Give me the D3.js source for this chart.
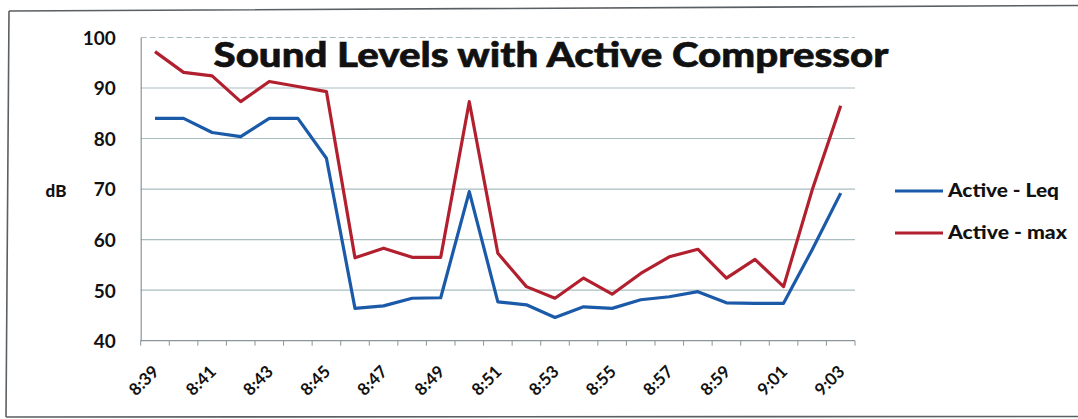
<!DOCTYPE html>
<html>
<head>
<meta charset="utf-8">
<script src="https://cdn.jsdelivr.net/npm/d3@7"></script>
<style>
  html, body { margin: 0; padding: 0; background: #ffffff; }
  svg { display: block; }
  text { font-family: Lato, "Open Sans", sans-serif; font-weight: 900; fill: #111; }
</style>
</head>
<body>
<svg id="chart" width="1078" height="419"></svg>
<script>
// Sample times (one reading per minute)
const times = ["8:39","8:40","8:41","8:42","8:43","8:44","8:45","8:46","8:47","8:48",
               "8:49","8:50","8:51","8:52","8:53","8:54","8:55","8:56","8:57","8:58",
               "8:59","9:00","9:01","9:02","9:03"];

// Equivalent continuous level (dB)
const leq = [84.0, 84.0, 81.2, 80.4, 84.0, 84.0, 76.1, 46.4, 46.9, 48.4,
             48.5, 69.5, 47.7, 47.1, 44.6, 46.7, 46.4, 48.1, 48.7, 49.7,
             47.5, 47.4, 47.4, 58.0, 69.2];

// Maximum level (dB)
const maxLevel = [97.2, 93.1, 92.4, 87.3, 91.3, 90.3, 89.3, 56.4, 58.3, 56.5,
                  56.5, 87.3, 57.3, 50.7, 48.4, 52.4, 49.2, 53.3, 56.6, 58.1,
                  52.4, 56.1, 50.7, 69.8, 86.5];

const yTicks = [40, 50, 60, 70, 80, 90, 100];
const xLabels = times.filter((d, i) => i % 2 === 0);

const seriesNames = ["Active - Leq", "Active - max"];
const seriesColors = ["#1b5aa8", "#b2202f"];

const svg = d3.select("#chart");

// Scanned-page frame
svg.append("path")
  .attr("d", "M9,11 L1078,5.5 M9,11 L6,417 M6,417 L1078,416.5")
  .attr("fill", "none")
  .attr("stroke", "#5a5f63")
  .attr("stroke-width", 1.6);

const plot = { left: 140.7, right: 855, top: 37.5, bottom: 340.7 };

const x = d3.scaleBand().domain(times).range([plot.left, plot.right]).padding(0);
const y = d3.scaleLinear().domain([40, 100]).range([plot.bottom, plot.top]);
const cx = d => x(d) + x.bandwidth() / 2;

// Horizontal gridlines
svg.append("g")
  .selectAll("line")
  .data(yTicks.filter(v => v > 40))
  .join("line")
  .attr("x1", plot.left).attr("x2", plot.right)
  .attr("y1", d => y(d)).attr("y2", d => y(d))
  .attr("stroke", "#a9bcc0")
  .attr("stroke-width", 1.1)
  .attr("stroke-dasharray", d => d === 100 ? "6,3" : null);

// Y axis
const yAxis = svg.append("g")
  .attr("transform", `translate(${plot.left},0)`)
  .call(d3.axisLeft(y).tickValues(yTicks).tickSize(0).tickPadding(25));
yAxis.select(".domain").attr("stroke", "#8a9699").attr("stroke-width", 1.2);
yAxis.selectAll("text")
  .style("font-size", "19px")
  .style("font-weight", 700)
  .attr("dy", "0.36em");

// X axis: category tick marks at band edges, labels on every other minute
const xAxisG = svg.append("g").attr("transform", `translate(0,${plot.bottom})`);
xAxisG.append("line")
  .attr("x1", plot.left).attr("x2", plot.right)
  .attr("stroke", "#8a9699").attr("stroke-width", 1.2);
xAxisG.selectAll("line.tick")
  .data(times.concat(["end"]))
  .join("line")
  .attr("class", "tick")
  .attr("x1", (d, i) => i < times.length ? x(d) : plot.right)
  .attr("x2", (d, i) => i < times.length ? x(d) : plot.right)
  .attr("y1", 0).attr("y2", 5)
  .attr("stroke", "#8a9699").attr("stroke-width", 1);

const xAxis = svg.append("g")
  .attr("transform", `translate(0,${plot.bottom})`)
  .call(d3.axisBottom(x).tickValues(xLabels).tickSize(0).tickPadding(0));
xAxis.select(".domain").remove();
xAxis.selectAll("text")
  .style("font-size", "17px")
  .style("font-weight", 700)
  .attr("text-anchor", "end")
  .attr("dy", 0)
  .attr("y", 0)
  .attr("transform", "translate(5,32) rotate(-45)");

// Series lines
const line = d3.line().x((d, i) => cx(times[i])).y(d => y(d));
[leq, maxLevel].forEach((vals, k) => {
  svg.append("path")
    .datum(vals)
    .attr("fill", "none")
    .attr("stroke", seriesColors[k])
    .attr("stroke-width", 3.2)
    .attr("stroke-linejoin", "round")
    .attr("d", line);
});

// Axis title
svg.append("text")
  .attr("x", 56).attr("y", 191)
  .attr("text-anchor", "middle")
  .attr("dy", "0.36em")
  .style("font-size", "17px")
  .text("dB");

// Chart title
svg.append("text")
  .attr("x", 551).attr("y", 67)
  .attr("text-anchor", "middle")
  .attr("textLength", 675)
  .attr("lengthAdjust", "spacingAndGlyphs")
  .style("font-size", "35px")
  .style("stroke", "#111")
  .style("stroke-width", 0.6)
  .text("Sound Levels with Active Compressor");

// Legend
const legend = svg.append("g");
seriesNames.forEach((name, k) => {
  const ly = 191 + k * 42;
  legend.append("line")
    .attr("x1", 895).attr("x2", 943)
    .attr("y1", ly).attr("y2", ly)
    .attr("stroke", seriesColors[k])
    .attr("stroke-width", 3.2);
  legend.append("text")
    .attr("x", 948).attr("y", ly)
    .attr("dy", "0.36em")
    .attr("textLength", k === 0 ? 111 : 119)
    .attr("lengthAdjust", "spacingAndGlyphs")
    .style("font-size", "18px")
    .text(name);
});
</script>
</body>
</html>
